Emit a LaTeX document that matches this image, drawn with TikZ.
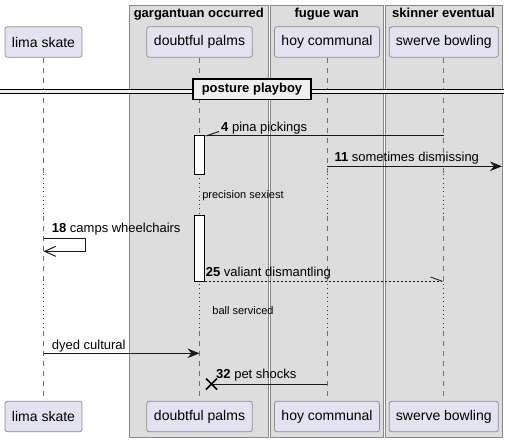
\documentclass[tikz,border=0pt]{standalone}
\usepackage{fontspec}
\setmainfont{Liberation Sans}
\usetikzlibrary{arrows.meta}
\definecolor{grpfill}{HTML}{DDDDDD}
\definecolor{grpdraw}{HTML}{888888}
\definecolor{partfill}{HTML}{E2E2F0}
\definecolor{partdraw}{HTML}{8E8E96}
\definecolor{delaycol}{HTML}{A80036}
\definecolor{lifecol}{HTML}{707070}
\definecolor{divfill}{HTML}{EEEEEE}
\tikzset{
  grpbox/.style={draw=grpdraw, fill=grpfill, line width=1pt, inner sep=0pt, outer sep=0pt, anchor=north west},
  grptitle/.style={font=\fontsize{13}{15}\selectfont\bfseries, anchor=base, inner sep=0pt},
  partbox/.style={draw=partdraw, fill=partfill, rounded corners=2.5pt, line width=0.8pt, minimum height=30.5pt, inner sep=0pt, font=\fontsize{14}{16}\selectfont},
  life/.style={draw=lifecol, line width=0.8pt, dash pattern=on 5pt off 5pt},
  delayline/.style={draw=delaycol, line width=0.8pt, dash pattern=on 1pt off 3.3pt},
  actbox/.style={draw=black, fill=white, line width=1pt, minimum width=10pt, inner sep=0pt, outer sep=0pt},
  msg/.style={draw=black!90, line width=1pt},
  lbl/.style={font=\fontsize{13}{15}\selectfont, anchor=base west, inner sep=0pt},
  delaytext/.style={font=\fontsize{11}{13}\selectfont, inner sep=0pt},
  fullhead/.style={-{Stealth[length=12pt,width=9.5pt,inset=4pt]}},
}
\begin{document}
\begin{tikzpicture}[x=1pt,y=-1pt]
\useasboundingbox (0,0) rectangle (509,442);
\fill[white] (0,0) rectangle (509,442);

% groups
\node[grpbox, minimum width=138.5pt, minimum height=431.5pt] (g1) at (129.5,5.5) {};
\node[grpbox, minimum width=113.5pt, minimum height=431.5pt] (g2) at (270,5.5) {};
\node[grpbox, minimum width=117pt, minimum height=431.5pt] (g3) at (385,5.5) {};
\node[grptitle] (g1t) at (198.8,17.5) {gargantuan occurred};
\node[grptitle] (g2t) at (326.8,17.5) {fugue wan};
\node[grptitle] (g3t) at (443.5,17.5) {skinner eventual};

% participants
\node[partbox, minimum width=77pt]  (p1) at (43.5,42) {lima skate};
\node[partbox, minimum width=105.5pt] (p2) at (199.5,42) {doubtful palms};
\node[partbox, minimum width=105pt] (p3) at (327,42) {hoy communal};
\node[partbox, minimum width=109pt] (p4) at (443.8,42) {swerve bowling};
\node[partbox, minimum width=77pt]  (q1) at (43.5,416.5) {lima skate};
\node[partbox, minimum width=105.5pt] (q2) at (199.5,416.5) {doubtful palms};
\node[partbox, minimum width=105pt] (q3) at (327,416.5) {hoy communal};
\node[partbox, minimum width=109pt] (q4) at (443.8,416.5) {swerve bowling};

% delay coordinates
\coordinate (d1a) at (0,174);
\coordinate (d1b) at (0,216);
\coordinate (d2a) at (0,284);
\coordinate (d2b) at (0,331);

% lifelines
\foreach \n in {1,2,3,4}{
  \draw[life] (p\n.south) -- (p\n.south |- d1a);
  \draw[delayline] (p\n.south |- d1a) -- (p\n.south |- d1b);
  \draw[life] (p\n.south |- d1b) -- (p\n.south |- d2a);
  \draw[delayline] (p\n.south |- d2a) -- (p\n.south |- d2b);
  \draw[life] (p\n.south |- d2b) -- (q\n.north);
}

% divider
\coordinate (dvl) at (0,89.5);
\coordinate (dvr) at (504,93.5);
\fill[divfill] (dvl) rectangle (dvr);
\draw[line width=1pt] (dvl) -- (dvl -| dvr);
\draw[line width=1pt] (dvl |- dvr) -- (dvr);
\node[draw=black, fill=divfill, line width=1.8pt, minimum width=118pt, minimum height=20.5pt, inner sep=0pt,
      font=\fontsize{13}{15}\selectfont\bfseries] (div) at (252,89.3) {posture playboy};

% activations
\node[actbox, minimum height=38.5pt] (a1) at (199.5,154.75) {};
\node[actbox, minimum height=66pt] (a2) at (199.5,248) {};

% message 4
\draw[msg, -{Straight Barb[right,length=11.5pt,width=8pt]}] (p4.south |- a1.north) -- (a1.north east);
\node[lbl] (l4) at (221,131) {\textbf{4} pina pickings};

% message 11
\coordinate (m11a) at (327,166.3);
\coordinate (out11) at (502,166.3);
\draw[msg, fullhead] (p3.south |- m11a) -- (out11);
\node[lbl] (l11) at (334.3,161) {\textbf{11} sometimes dismissing};

% delay texts
\node[delaytext] (dt1) at (243,195.5) {precision sexiest};
\node[delaytext] (dt2) at (243,311) {ball serviced};

% message 18 (self)
\coordinate (s18a) at (0,238.3);
\coordinate (s18b) at (0,251.3);
\draw[msg, -{Straight Barb[length=11pt,width=10pt]}] (p1.south |- s18a) -- ++(42,0) -- ++(0,13) -- (p1.south |- s18b);
\node[lbl] (l18) at (51.7,232.3) {\textbf{18} camps wheelchairs};

% message 25
\draw[msg, line width=0.8pt, dash pattern=on 2pt off 2pt, -{Straight Barb[left,length=11pt,width=8pt]}] (a2.south east) -- (p4.south |- a2.south);
\node[lbl] (l25) at (205.7,276.7) {\textbf{25} valiant dismantling};

% dyed cultural
\coordinate (dc) at (0,353.3);
\draw[msg, fullhead] (p1.south |- dc) -- (p2.south |- dc);
\node[lbl] (ldc) at (51.7,349) {dyed cultural};

% message 32
\coordinate (x32) at (211.5,384);
\draw[msg] (p3.south |- x32) -- (x32);
\draw[line width=1.6pt] (x32) ++(-5.5,-5.5) -- ++(11,11) ++(-11,0) -- ++(11,-11);
\node[lbl] (l32) at (216,378.3) {\textbf{32} pet shocks};
\end{tikzpicture}
\end{document}
